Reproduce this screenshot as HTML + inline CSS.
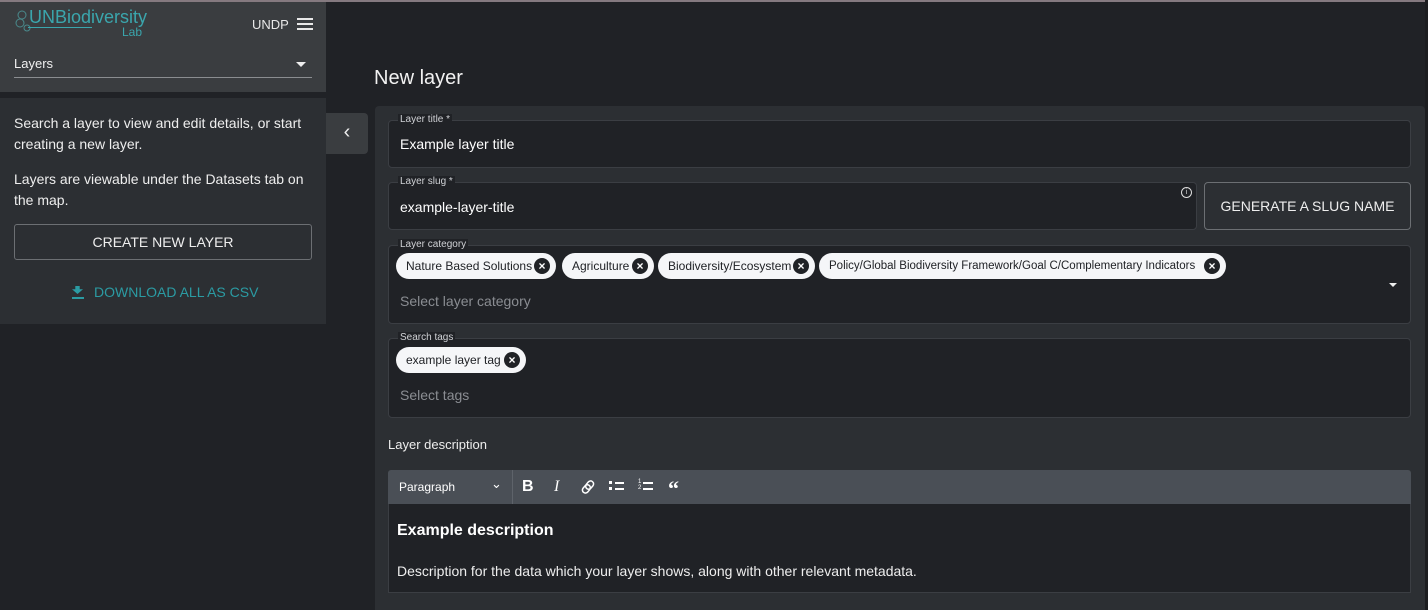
<!DOCTYPE html>
<html><head><meta charset="utf-8"><style>
*{box-sizing:border-box;margin:0;padding:0}
body{width:1428px;height:610px;overflow:hidden;background:#202226;font-family:"Liberation Sans",Arial,sans-serif;color:#fff;position:relative}
.a{position:absolute}
.fs{position:absolute;border:1px solid #3b3e43;border-radius:4px;background:#202226}
.lbl{position:absolute;font-size:10px;color:#d0d2d6;background:#202226;padding:0 2px;line-height:11px}
.chip{position:absolute;height:26px;border-radius:13px;background:#f5f6f8;color:#202226;font-size:12px;line-height:26px;padding-left:10px;white-space:nowrap;overflow:hidden}
.chip i{position:absolute;right:6px;top:5px;width:16px;height:16px;border-radius:50%;background:#202226;color:#fff;font-style:normal;font-size:12px;line-height:16px;text-align:center;font-weight:bold}
.ph{position:absolute;font-size:14px;color:#8a8d92}
</style></head><body>
<div class="a" style="left:0;top:0;width:1428px;height:2px;background:#857a80"></div>
<!-- sidebar -->
<div class="a" style="left:0;top:2px;width:326px;height:90px;background:#3a3d40"></div>
<div class="a" style="left:15px;top:9px;width:30px;height:24px;">
<svg width="30" height="24"><g fill="none" stroke="#4a8a8c" stroke-width="1"><circle cx="7" cy="6" r="4"/><circle cx="5" cy="14" r="4"/><circle cx="12" cy="19" r="3"/></g></svg></div>
<div class="a" style="left:29px;top:7px;font-size:18px;color:#3aa6ad">UNBiodiversity</div>
<div class="a" style="left:28px;top:27px;width:64px;height:1px;background:#3aa6ad"></div>
<div class="a" style="left:122px;top:25px;font-size:12px;color:#3aa6ad">Lab</div>
<div class="a" style="left:252px;top:17px;font-size:13px;color:#e8e8e8">UNDP</div>
<div class="a" style="left:297px;top:18px;width:16px;height:2px;background:#e8e8e8;box-shadow:0 5px 0 #e8e8e8,0 10px 0 #e8e8e8"></div>
<div class="a" style="left:14px;top:56px;font-size:13px;color:#f0f0f0">Layers</div>
<div class="a" style="left:296px;top:62px;width:0;height:0;border-left:5px solid transparent;border-right:5px solid transparent;border-top:5px solid #eee"></div>
<div class="a" style="left:14px;top:77px;width:298px;height:1px;background:#8a8d90"></div>
<div class="a" style="left:0;top:98px;width:326px;height:226px;background:#2c2f33"></div>
<div class="a" style="left:14px;top:113px;width:300px;font-size:14px;line-height:21px;color:#eee">Search a layer to view and edit details, or start creating a new layer.</div>
<div class="a" style="left:14px;top:169px;width:300px;font-size:14px;line-height:21px;color:#eee">Layers are viewable under the Datasets tab on the map.</div>
<div class="a" style="left:14px;top:224px;width:298px;height:36px;border:1px solid #6c6f73;border-radius:3px;font-size:14px;line-height:34px;text-align:center;color:#eee">CREATE NEW LAYER</div>
<div class="a" style="left:72px;top:286px;width:11px;height:8px;background:#2b9ba3;clip-path:polygon(30% 0,70% 0,70% 40%,100% 40%,50% 100%,0 40%,30% 40%)"></div>
<div class="a" style="left:72px;top:297px;width:12px;height:2px;background:#2b9ba3"></div>
<div class="a" style="left:94px;top:284px;font-size:14px;color:#2b9ba3">DOWNLOAD ALL AS CSV</div>
<div class="a" style="left:326px;top:113px;width:42px;height:41px;background:#3a3d40;border-radius:0 4px 4px 0;font-size:20px;text-align:center;line-height:38px;color:#eee">&#8249;</div>
<!-- main -->
<div class="a" style="left:374px;top:67px;font-size:20px;color:#f2f2f2">New layer</div>
<div class="a" style="left:375px;top:106px;width:1050px;height:504px;background:#2c2f33;border-radius:4px 4px 0 0"></div>
<div class="a" style="left:1425px;top:0;width:3px;height:610px;background:#1c1d20"></div>
<div class="fs" style="left:388px;top:120px;width:1023px;height:48px"></div>
<div class="lbl" style="left:398px;top:114px">Layer title *</div>
<div class="a" style="left:400px;top:136px;font-size:14px">Example layer title</div>
<div class="fs" style="left:388px;top:182px;width:809px;height:48px"></div>
<div class="lbl" style="left:398px;top:176px">Layer slug *</div>
<div class="a" style="left:400px;top:199px;font-size:14px">example-layer-title</div>
<div class="a" style="left:1181px;top:187px;width:11px;height:11px;border:1px solid #ddd;border-radius:50%;font-size:7px;text-align:center;line-height:9px;color:#ddd">i</div>
<div class="a" style="left:1204px;top:182px;width:207px;height:48px;border:1px solid #6c6f73;border-radius:4px;font-size:14px;line-height:46px;text-align:center;color:#eee">GENERATE A SLUG NAME</div>
<div class="fs" style="left:388px;top:245px;width:1023px;height:79px"></div>
<div class="lbl" style="left:398px;top:239px">Layer category</div>
<div class="chip" style="left:396px;top:253px;width:160px">Nature Based Solutions<i>×</i></div>
<div class="chip" style="left:562px;top:253px;width:92px">Agriculture<i>×</i></div>
<div class="chip" style="left:658px;top:253px;width:157px">Biodiversity/Ecosystem<i>×</i></div>
<div class="chip" style="left:819px;top:253px;width:407px;font-size:11.5px">Policy/Global Biodiversity Framework/Goal C/Complementary Indicators<i>×</i></div>
<div class="ph" style="left:400px;top:293px">Select layer category</div>
<div class="a" style="left:1389px;top:283px;width:0;height:0;border-left:4px solid transparent;border-right:4px solid transparent;border-top:4px solid #eee"></div>
<div class="fs" style="left:388px;top:338px;width:1023px;height:80px"></div>
<div class="lbl" style="left:398px;top:332px">Search tags</div>
<div class="chip" style="left:396px;top:347px;width:130px">example layer tag<i>×</i></div>
<div class="ph" style="left:400px;top:387px">Select tags</div>
<div class="a" style="left:388px;top:437px;font-size:13px;color:#eee">Layer description</div>
<div class="a" style="left:388px;top:470px;width:1023px;height:34px;background:#4a4f56;border-radius:3px 3px 0 0"></div>
<div class="a" style="left:399px;top:480px;font-size:12px;color:#fff">Paragraph</div>
<div class="a" style="left:491px;top:476px;font-size:13px;color:#fff">&#8964;</div>
<div class="a" style="left:512px;top:470px;width:1px;height:34px;background:#5e636a"></div>
<div class="a" style="left:522px;top:478px;font-size:16px;font-weight:bold">B</div>
<div class="a" style="left:554px;top:478px;font-size:16px;font-style:italic;font-family:'Liberation Serif',serif">I</div>
<svg class="a" style="left:580px;top:479px" width="16" height="16"><g fill="none" stroke="#fff" stroke-width="1.5"><rect x="5" y="1" width="6" height="9" rx="3" transform="rotate(40 8 8)"/><rect x="5" y="6" width="6" height="9" rx="3" transform="rotate(40 8 8)"/></g></svg>
<div class="a" style="left:609px;top:481px;width:3px;height:3px;background:#fff;box-shadow:0 6px 0 #fff"></div>
<div class="a" style="left:615px;top:482px;width:9px;height:1.5px;background:#fff;box-shadow:0 6px 0 #fff"></div>
<div class="a" style="left:638px;top:479px;font-size:6px;line-height:6px">1<br>2</div>
<div class="a" style="left:643px;top:482px;width:10px;height:1.5px;background:#fff;box-shadow:0 6px 0 #fff"></div>
<div class="a" style="left:668px;top:478px;font-size:22px;font-weight:bold;font-family:'Liberation Serif',serif;line-height:22px">&#8220;</div>
<div class="a" style="left:388px;top:504px;width:1023px;height:89px;background:#202226;border:1px solid #3b3e43;border-top:none"></div>
<div class="a" style="left:397px;top:522px;font-size:16px;font-weight:bold">Example description</div>
<div class="a" style="left:397px;top:563px;font-size:14px;color:#eee">Description for the data which your layer shows, along with other relevant metadata.</div>
</body></html>
